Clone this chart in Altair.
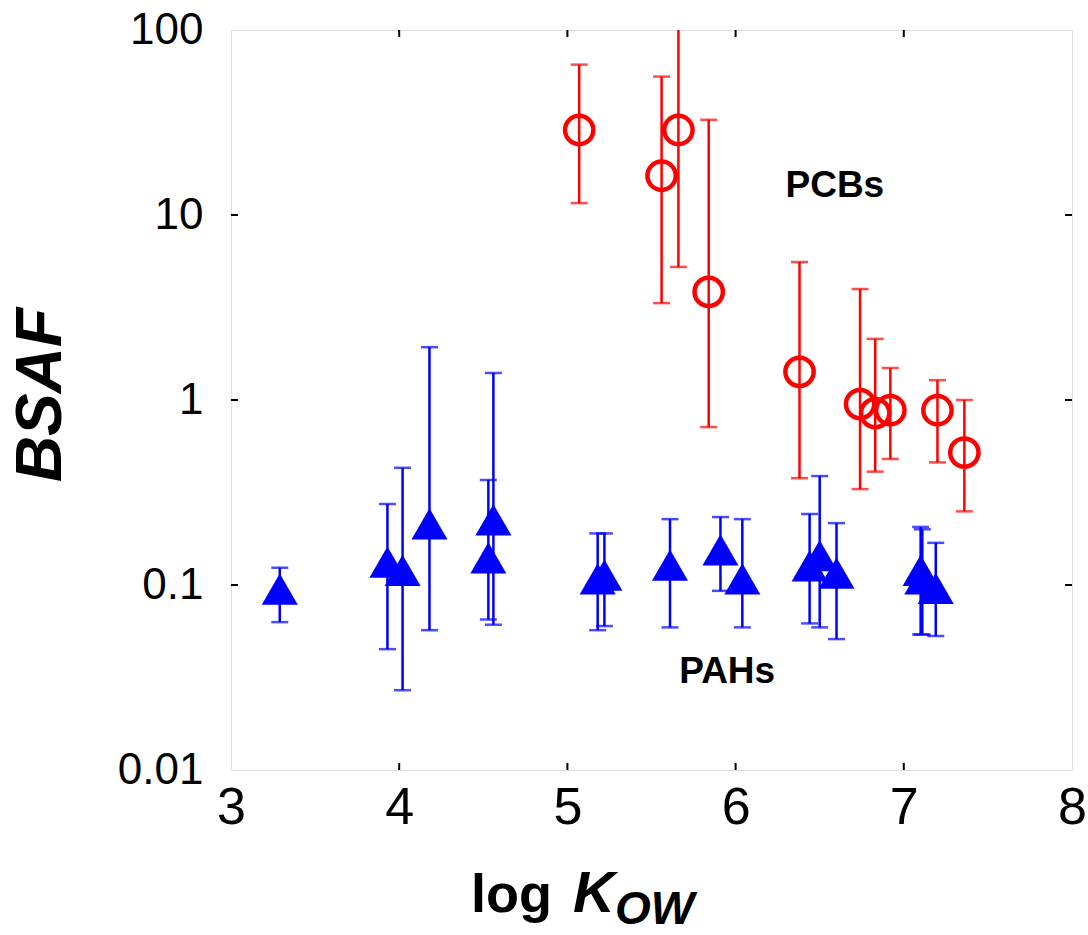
import altair as alt
import pandas as pd

# ---- data ----
pcb_logkow = [5.07, 5.56, 5.66, 5.84, 6.38, 6.74, 6.83, 6.92, 7.20, 7.36]
pcb_bsaf = [28.8, 16.3, 28.8, 3.84, 1.42, 0.95, 0.85, 0.88, 0.88, 0.52]
pcb_hi = [65, 56, 120, 32.7, 5.57, 3.98, 2.14, 1.49, 1.28, 1.0]
pcb_lo = [11.6, 3.34, 5.24, 0.714, 0.378, 0.33, 0.41, 0.48, 0.46, 0.25]

pah_logkow = [3.29, 3.93, 4.02, 4.18, 4.53, 4.56, 5.18, 5.22, 5.61, 5.91, 6.04,
              6.44, 6.50, 6.60, 7.10, 7.11, 7.19]
pah_bsaf = [0.095, 0.133, 0.12, 0.214, 0.14, 0.225, 0.108, 0.113, 0.128, 0.155,
            0.108, 0.127, 0.144, 0.116, 0.12, 0.108, 0.096]
pah_hi = [0.124, 0.274, 0.43, 1.93, 0.37, 1.4, 0.19, 0.19, 0.227, 0.233, 0.227,
          0.242, 0.388, 0.216, 0.206, 0.20, 0.169]
pah_lo = [0.063, 0.045, 0.027, 0.057, 0.065, 0.061, 0.057, 0.06, 0.059, 0.093,
          0.059, 0.062, 0.059, 0.051, 0.054, 0.054, 0.053]

x_ticks = [3, 4, 5, 6, 7, 8]
y_ticks = [0.01, 0.1, 1, 10, 100]
x_inner_ticks = [4, 5, 6, 7]
y_inner_ticks = [0.1, 1, 10]

labels = ["PCBs", "PAHs"]
label_x = [6.59, 5.95]
label_y = [14.4, 0.034]

W, H = 841, 740

pcb = pd.DataFrame({"x": pcb_logkow, "y": pcb_bsaf, "hi": pcb_hi, "lo": pcb_lo})
pah = pd.DataFrame({"x": pah_logkow, "y": pah_bsaf, "hi": pah_hi, "lo": pah_lo})
lab = pd.DataFrame({"t": labels, "x": label_x, "y": label_y})
xt = pd.DataFrame({"x": x_inner_ticks})
yt = pd.DataFrame({"y": y_inner_ticks})
one = pd.DataFrame({"a": [0]})

xscale = alt.Scale(domain=[3, 8], nice=False, zero=False)
yscale = alt.Scale(type="log", domain=[0.01, 100], nice=False)

X = alt.X("x:Q", scale=xscale, title=None,
          axis=alt.Axis(values=x_ticks, format="d", grid=False, domain=False,
                        ticks=False, labelFont="Liberation Sans", labelFontSize=52,
                        labelColor="black", labelPadding=12, labelFlush=False))
Y = alt.Y("y:Q", scale=yscale, title=None,
          axis=alt.Axis(values=y_ticks, format="~g", grid=False, domain=False,
                        ticks=False, labelFont="Liberation Sans", labelFontSize=44,
                        labelColor="black", labelPadding=28, labelFlush=False))


def errbars(df, color):
    base = alt.Chart(df)
    rule = base.mark_rule(color=color, strokeWidth=2.5, clip=True).encode(
        x=alt.X("x:Q", scale=xscale), y=alt.Y("lo:Q", scale=yscale), y2="hi:Q")
    cap_hi = base.mark_tick(color=color, size=17, thickness=2.5,
                            orient="horizontal", clip=True).encode(
        x=alt.X("x:Q", scale=xscale), y=alt.Y("hi:Q", scale=yscale))
    cap_lo = base.mark_tick(color=color, size=17, thickness=2.5,
                            orient="horizontal", clip=True).encode(
        x=alt.X("x:Q", scale=xscale), y=alt.Y("lo:Q", scale=yscale))
    return rule + cap_hi + cap_lo


pah_pts = alt.Chart(pah).mark_point(shape="triangle-up", filled=True, size=1300,
                                    color="#0000FF", opacity=1).encode(x=X, y=Y)
pcb_pts = alt.Chart(pcb).mark_point(shape="circle", filled=False, size=800,
                                    color="#FF0000", strokeWidth=4.5,
                                    opacity=1).encode(x=X, y=Y)

text_lab = alt.Chart(lab).mark_text(font="Liberation Sans", fontWeight="bold",
                                    fontSize=37, color="black", align="center",
                                    baseline="middle").encode(
    x=alt.X("x:Q", scale=xscale), y=alt.Y("y:Q", scale=yscale), text="t:N")

# inward ticks on all four sides
tb = alt.Chart(xt).mark_rule(color="black", strokeWidth=2).encode(
    x=alt.X("x:Q", scale=xscale), y=alt.value(H), y2=alt.value(H - 7))
tt = alt.Chart(xt).mark_rule(color="black", strokeWidth=2).encode(
    x=alt.X("x:Q", scale=xscale), y=alt.value(0), y2=alt.value(7))
tl = alt.Chart(yt).mark_rule(color="black", strokeWidth=2).encode(
    y=alt.Y("y:Q", scale=yscale), x=alt.value(0), x2=alt.value(7))
tr = alt.Chart(yt).mark_rule(color="black", strokeWidth=2).encode(
    y=alt.Y("y:Q", scale=yscale), x=alt.value(W - 7), x2=alt.value(W))

# axis titles
t_log = alt.Chart(one).mark_text(font="Liberation Sans", fontWeight="bold",
                                 fontSize=54, align="left", baseline="alphabetic",
                                 color="black").encode(
    x=alt.value(240), y=alt.value(882), text=alt.value("log"))
t_k = alt.Chart(one).mark_text(font="Liberation Sans", fontWeight="bold",
                               fontStyle="italic", fontSize=58, align="left",
                               baseline="alphabetic", color="black").encode(
    x=alt.value(342), y=alt.value(882), text=alt.value("K"))
t_ow = alt.Chart(one).mark_text(font="Liberation Sans", fontWeight="bold",
                                fontStyle="italic", fontSize=46, align="left",
                                baseline="alphabetic", color="black").encode(
    x=alt.value(384), y=alt.value(894), text=alt.value("OW"))
t_bsaf = alt.Chart(one).mark_text(font="Liberation Sans", fontWeight="bold",
                                  fontStyle="italic", fontSize=64, angle=270,
                                  align="center", baseline="middle",
                                  color="black").encode(
    x=alt.value(-189), y=alt.value(365), text=alt.value("BSAF"))

chart = alt.layer(
    errbars(pah, "#0000FF"), pah_pts,
    errbars(pcb, "#FF0000"), pcb_pts,
    text_lab, tb, tt, tl, tr, t_log, t_k, t_ow, t_bsaf,
).properties(
    width=W, height=H,
    autosize=alt.AutoSizeParams(type="none"),
    padding={"left": 231, "top": 30, "right": 16, "bottom": 165},
).configure_view(stroke="black", strokeWidth=2).configure(background="white")

chart.save("out.html", embed_options={"renderer": "svg", "actions": False})
